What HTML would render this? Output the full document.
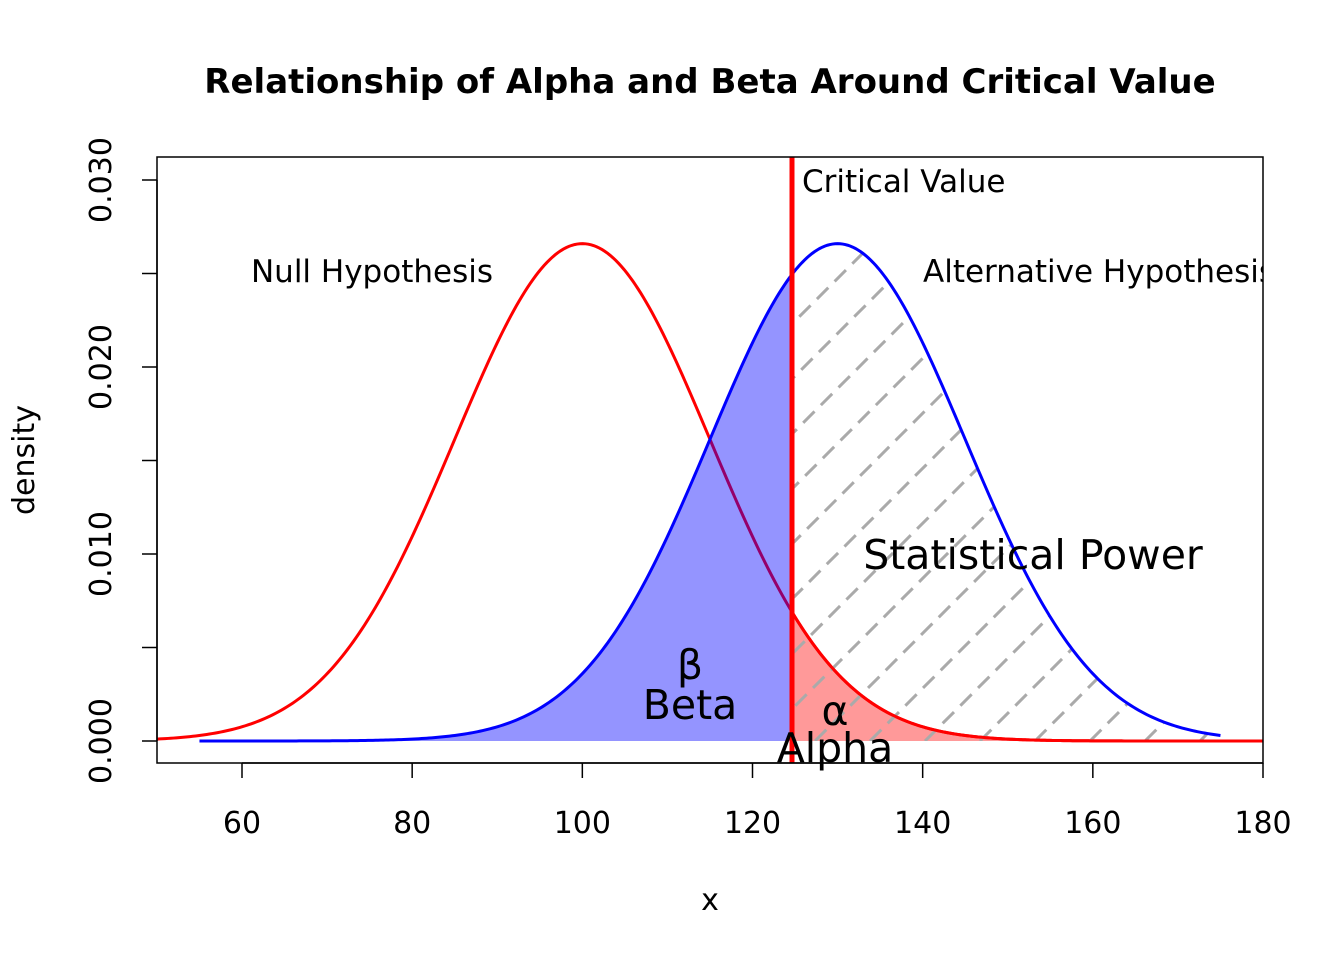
<!DOCTYPE html>
<html><head><meta charset="utf-8"><style>body{margin:0;background:#fff}svg{display:block}text{font-family:"DejaVu Sans","Liberation Sans",sans-serif}</style></head>
<body>
<svg id="s" width="1344" height="960" viewBox="0 0 1344 960" xmlns="http://www.w3.org/2000/svg">
<defs>
<clipPath id="plot"><rect x="157" y="157" width="1106" height="606"/></clipPath>
<clipPath id="hc"><path id="hcp" d=""/></clipPath>
</defs>
<g clip-path="url(#plot)">
<path id="rl" fill="none" stroke="#ff0000" stroke-width="3"/>
<path id="bf" fill="rgba(0,0,255,0.42)" stroke="none"/>
<path id="rf" fill="rgba(255,0,0,0.4)" stroke="none"/>
<g clip-path="url(#hc)" id="hatch" stroke="#aaaaaa" stroke-width="3" stroke-dasharray="16,9"></g>
<path id="rl2" fill="none" stroke="#ff0000" stroke-width="3"/>
<path id="bl" fill="none" stroke="#0000ff" stroke-width="3"/>
<line x1="792" y1="157" x2="792" y2="763" stroke="#ff0000" stroke-width="5"/>
<text x="923" y="282" font-size="31">Alternative Hypothesis</text>
</g>
<rect x="157" y="157" width="1106" height="606" fill="none" stroke="#000" stroke-width="1.5"/>
<text x="710" y="93" font-size="34" font-weight="bold" text-anchor="middle">Relationship of Alpha and Beta Around Critical Value</text>
<text x="802" y="192" font-size="31">Critical Value</text>
<text x="372" y="282" font-size="31" text-anchor="middle">Null Hypothesis</text>
<text x="1033" y="569" font-size="41" text-anchor="middle">Statistical Power</text>
<text x="690" y="679" font-size="41" text-anchor="middle">β</text>
<text x="690" y="719" font-size="41" text-anchor="middle">Beta</text>
<text x="835" y="725" font-size="41" text-anchor="middle">α</text>
<text x="835" y="762" font-size="41" text-anchor="middle">Alpha</text>
<g id="ax" stroke="#000" stroke-width="1.5"></g>
<g id="axt" font-size="30"></g>
<text x="710" y="910" font-size="30" text-anchor="middle">x</text>
<text transform="translate(34,460) rotate(-90)" font-size="30" text-anchor="middle">density</text>
</svg>
<script>
var X=function(v){return 242+(v-60)*1021/120},Y=function(d){return 741-d*18700};
function dn(x,m){var s=15;return Math.exp(-0.5*((x-m)/s)*((x-m)/s))/(s*Math.sqrt(2*Math.PI));}
function curve(a,b,m){var p=[];for(var i=0;i<=400;i++){var x=a+(b-a)*i/400;p.push(X(x).toFixed(2)+","+Y(dn(x,m)).toFixed(2));}return p;}
var cv=124.67;
document.getElementById('rl').setAttribute('d','M'+curve(50,180,100).join(' L'));
document.getElementById('rl2').setAttribute('d','M'+curve(cv,180,100).join(' L'));
document.getElementById('bl').setAttribute('d','M'+curve(55,175,130).join(' L'));
document.getElementById('bf').setAttribute('d','M'+X(55)+','+Y(0)+' L'+curve(55,cv,130).join(' L')+' L'+X(cv)+','+Y(0)+'Z');
document.getElementById('rf').setAttribute('d','M'+X(cv)+','+Y(0)+' L'+curve(cv,180,100).join(' L')+' L'+X(180)+','+Y(0)+'Z');
document.getElementById('hcp').setAttribute('d','M'+X(cv)+','+Y(0)+' L'+curve(cv,175,130).join(' L')+' L'+X(175)+','+Y(0)+'Z');
var h='';for(var x0=925-55*20;x0<1400;x0+=55){h+='<line x1="'+x0+'" y1="741" x2="'+(x0+600)+'" y2="141"/>';}
document.getElementById('hatch').innerHTML=h;
var a='',t='';
a+='<line x1="242" y1="763" x2="1263" y2="763"/>';
for(var v=60;v<=180;v+=20){var x=X(v);a+='<line x1="'+x+'" y1="763" x2="'+x+'" y2="778"/>';t+='<text x="'+x+'" y="833" text-anchor="middle">'+v+'</text>';}
a+='<line x1="157" y1="741" x2="157" y2="180"/>';
for(var i=0;i<=6;i++){var y=Y(i*0.005);a+='<line x1="142" y1="'+y+'" x2="157" y2="'+y+'"/>';if(i%2==0)t+='<text transform="translate(111,'+y+') rotate(-90)" text-anchor="middle">'+(i*0.005).toFixed(3)+'</text>';}
document.getElementById('ax').innerHTML=a;document.getElementById('axt').innerHTML=t;
</script>
</body></html>
